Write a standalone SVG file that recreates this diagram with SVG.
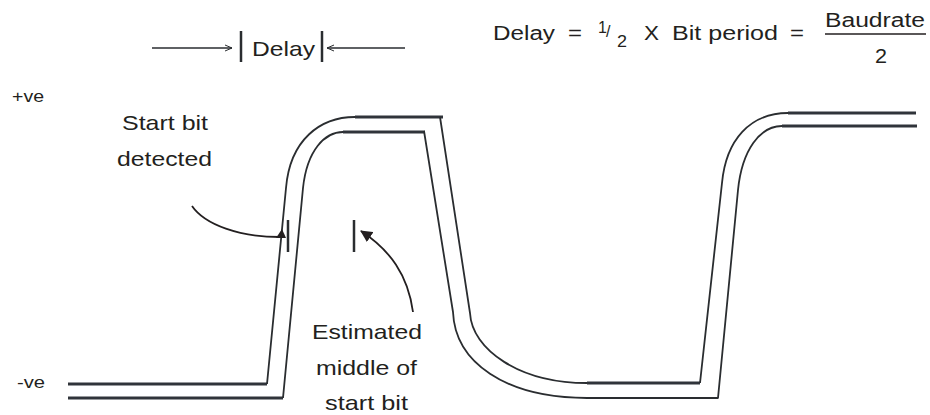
<svg xmlns="http://www.w3.org/2000/svg" width="930" height="415" viewBox="0 0 930 415">
<style>
  text { font-family: "Liberation Sans", Arial, sans-serif; fill: #231f20; }
  .lbl { font-size: 21px; }
  .eq { font-size: 20px; }
  .frac { font-size: 16px; }
  .small { font-size: 16px; }
  .sig { fill: none; stroke: #2a2d30; stroke-width: 1.8; stroke-linejoin: round; }
  .thick { fill: none; stroke: #30343a; stroke-width: 3; }
  .thin { fill: none; stroke: #2a2d30; stroke-width: 1.3; }
  .bar { stroke: #2a2d30; stroke-width: 2.5; }
</style>
<defs>
  <marker id="open" markerWidth="10" markerHeight="8" refX="8" refY="4" orient="auto" markerUnits="userSpaceOnUse">
    <path d="M1,1 L8,4 L1,7" fill="none" stroke="#2a2d30" stroke-width="1"/>
  </marker>
  <marker id="solid" markerWidth="14" markerHeight="12" refX="11" refY="6" orient="auto" markerUnits="userSpaceOnUse">
    <path d="M0,0 L12,6 L0,12 Z" fill="#231f20"/>
  </marker>
</defs>

<g id="signal">
  <!-- trace 1 -->
  <path class="thick" d="M68,384 H267"/>
  <path class="sig" d="M267,384 L286,188 C290,140 320,117 355,117"/>
  <path class="thick" d="M355,117 H443"/>
  <path class="sig" d="M440,117 L470,313 C472,350 520,383 587,383"/>
  <path class="thick" d="M587,383 H700"/>
  <path class="sig" d="M700,383 L722,183 C726,140 750,113 788,113"/>
  <path class="thick" d="M788,113 H916"/>
  <!-- trace 2 -->
  <path class="thick" d="M68,398 H283"/>
  <path class="sig" d="M283,398 L303,188 C307,150 325,132 343,132"/>
  <path class="thick" d="M343,132 H425"/>
  <path class="sig" d="M424,131 L453,312 C455,362 505,398 587,398"/>
  <path class="sig" d="M587,398 H718 L738,190 C742,150 760,126 782,126"/>
  <path class="thick" d="M782,126 H917"/>
</g>

<g id="delay-label">
  <line class="thin" x1="152" y1="48" x2="232" y2="48" marker-end="url(#open)"/>
  <line class="bar" x1="241" y1="31" x2="241" y2="62" stroke-width="2"/>
  <text class="lbl" x="252" y="56" textLength="63" lengthAdjust="spacingAndGlyphs">Delay</text>
  <line class="bar" x1="322" y1="31" x2="322" y2="62" stroke-width="3.5"/>
  <line class="thin" x1="405" y1="48" x2="327" y2="48" marker-end="url(#open)"/>
</g>

<g id="equation">
  <text class="eq" x="493" y="40" textLength="62" lengthAdjust="spacingAndGlyphs">Delay</text>
  <text class="eq" x="568" y="40" textLength="14" lengthAdjust="spacingAndGlyphs">=</text>
  <text class="frac" x="598" y="33">1</text>
  <text class="frac" x="606" y="37">/</text>
  <text class="frac" x="617" y="47" textLength="10" lengthAdjust="spacingAndGlyphs">2</text>
  <text class="lbl" x="644" y="40" textLength="15" lengthAdjust="spacingAndGlyphs">X</text>
  <text class="eq" x="672" y="40" textLength="106" lengthAdjust="spacingAndGlyphs">Bit period</text>
  <text class="eq" x="790" y="40" textLength="14" lengthAdjust="spacingAndGlyphs">=</text>
  <text class="eq" x="825" y="27" textLength="100" lengthAdjust="spacingAndGlyphs">Baudrate</text>
  <line x1="825" y1="34" x2="926" y2="34" stroke="#231f20" stroke-width="1.5"/>
  <text class="eq" x="875" y="63" textLength="12" lengthAdjust="spacingAndGlyphs">2</text>
</g>

<g id="axis-labels">
  <text class="small" x="12" y="102" textLength="32" lengthAdjust="spacingAndGlyphs">+ve</text>
  <text class="small" x="17" y="388" textLength="28" lengthAdjust="spacingAndGlyphs">-ve</text>
</g>

<g id="start-bit-detected">
  <text class="lbl" x="122" y="130" textLength="86" lengthAdjust="spacingAndGlyphs">Start bit</text>
  <text class="lbl" x="117" y="166" textLength="95" lengthAdjust="spacingAndGlyphs">detected</text>
  <line class="bar" x1="288" y1="220" x2="288" y2="252"/>
</g>

<g id="estimated-middle">
  <text class="lbl" x="312" y="339" textLength="110" lengthAdjust="spacingAndGlyphs">Estimated</text>
  <text class="lbl" x="316" y="375" textLength="101" lengthAdjust="spacingAndGlyphs">middle of</text>
  <text class="lbl" x="325" y="410" textLength="83" lengthAdjust="spacingAndGlyphs">start bit</text>
  <line class="bar" x1="354" y1="220" x2="354" y2="252"/>
</g>

<g id="connectors">
  <path d="M192,206 C205,225 240,237 280,237" fill="none" stroke="#231f20" stroke-width="1.8"/>
  <polygon points="276,238 282,229 286,238" fill="#231f20"/>
  <path d="M413,312 C408,275 390,250 361,231" fill="none" stroke="#231f20" stroke-width="1.8" marker-end="url(#solid)"/>
</g>
</svg>
